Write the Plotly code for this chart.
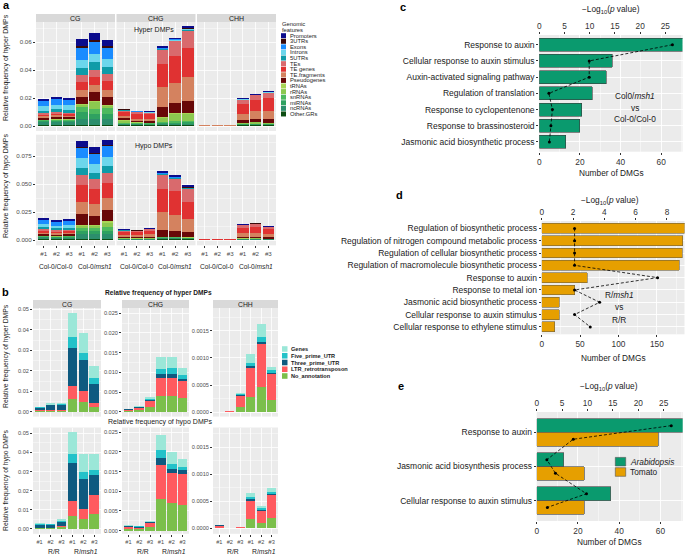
import plotly.graph_objects as go

W, H = 685, 556
FONT = "Liberation Sans, Arial, Helvetica, sans-serif"
BG = "#EBEBEB"
TICKC = "#4D4D4D"

# ---------------- data ----------------
bar_labels = ["#1", "#2", "#3", "#1", "#2", "#3"]
a_group_labels = ["Col-0/Col-0", "Col-0/<i>msh1</i>"]
b_group_labels = ["R/R", "R/<i>msh1</i>"]
contexts = ["CG", "CHG", "CHH"]

features = ["Promoters", "3UTRs", "Exons", "Introns", "5UTRs", "TEs", "TE genes",
            "TE.fragments", "Pseudogenes", "tRNAs", "rRNAs", "snRNAs", "miRNAs",
            "ncRNAs", "Other.GRs"]
feature_colors = ["#0B0B8C", "#3A0A0A", "#1A8CFF", "#6CD6EC", "#0F9BA8", "#D96A6D",
                  "#E03232", "#D4825F", "#680808", "#A9D456", "#8CC84F", "#4DB95E",
                  "#2FA160", "#2C8E6C", "#0D4D12"]

# rows follow `features`, columns are bars #1..#6
a_hyper_CG = [
    [0.0015, 0.0016, 0.0015, 0.0050, 0.0050, 0.0045],
    [0.0003, 0.0003, 0.0003, 0.0015, 0.0015, 0.0010],
    [0.0035, 0.0038, 0.0037, 0.0085, 0.0085, 0.0080],
    [0.0030, 0.0032, 0.0031, 0.0060, 0.0060, 0.0060],
    [0.0020, 0.0022, 0.0021, 0.0050, 0.0055, 0.0050],
    [0.0010, 0.0011, 0.0011, 0.0050, 0.0050, 0.0050],
    [0.0010, 0.0011, 0.0011, 0.0055, 0.0055, 0.0060],
    [0.0010, 0.0011, 0.0010, 0.0050, 0.0050, 0.0050],
    [0.0015, 0.0017, 0.0016, 0.0055, 0.0065, 0.0060],
    [0.0002, 0.0002, 0.0002, 0.0005, 0.0010, 0.0005],
    [0.0003, 0.0003, 0.0003, 0.0010, 0.0050, 0.0015],
    [0.0005, 0.0005, 0.0005, 0.0040, 0.0030, 0.0040],
    [0.0008, 0.0009, 0.0009, 0.0050, 0.0040, 0.0040],
    [0.0020, 0.0022, 0.0022, 0.0040, 0.0040, 0.0040],
    [0.0008, 0.0008, 0.0008, 0.0010, 0.0010, 0.0010],
]
a_hyper_CHG = [
    [0.0005, 0.0004, 0.0004, 0.0012, 0.0012, 0.0015],
    [0.0001, 0.0001, 0.0001, 0.0002, 0.0002, 0.0002],
    [0.0003, 0.0002, 0.0002, 0.0005, 0.0005, 0.0005],
    [0.0002, 0.0002, 0.0002, 0.0003, 0.0003, 0.0003],
    [0.0002, 0.0002, 0.0002, 0.0005, 0.0005, 0.0008],
    [0.0010, 0.0010, 0.0010, 0.0100, 0.0105, 0.0120],
    [0.0030, 0.0035, 0.0033, 0.0170, 0.0190, 0.0210],
    [0.0015, 0.0015, 0.0014, 0.0140, 0.0145, 0.0170],
    [0.0015, 0.0012, 0.0012, 0.0070, 0.0075, 0.0085],
    [0.0003, 0.0002, 0.0002, 0.0005, 0.0008, 0.0008],
    [0.0015, 0.0005, 0.0004, 0.0030, 0.0050, 0.0050],
    [0.0005, 0.0004, 0.0004, 0.0008, 0.0008, 0.0010],
    [0.0005, 0.0004, 0.0004, 0.0008, 0.0010, 0.0010],
    [0.0008, 0.0007, 0.0006, 0.0010, 0.0010, 0.0012],
    [0.0005, 0.0005, 0.0005, 0.0005, 0.0005, 0.0006],
]
a_hyper_CHH = [
    [0.00003, 0.00003, 0.00003, 0.0005, 0.0005, 0.0005],
    [0.00001, 0.00001, 0.00001, 0.0001, 0.0001, 0.0001],
    [0.00001, 0.00001, 0.00001, 0.0001, 0.0002, 0.0001],
    [0.00001, 0.00001, 0.00001, 0.0001, 0.0001, 0.0001],
    [0.00001, 0.00001, 0.00001, 0.0001, 0.0001, 0.0001],
    [0.0002, 0.0002, 0.0002, 0.0030, 0.0035, 0.0040],
    [0.0002, 0.0002, 0.0002, 0.0070, 0.0075, 0.0090],
    [0.0003, 0.0003, 0.0003, 0.0045, 0.0055, 0.0060],
    [0.0001, 0.0001, 0.0001, 0.0022, 0.0025, 0.0025],
    [0.00002, 0.00002, 0.00002, 0.0002, 0.0003, 0.0002],
    [0.00002, 0.00002, 0.00002, 0.0005, 0.0010, 0.0006],
    [0.00002, 0.00002, 0.00002, 0.0003, 0.0004, 0.0004],
    [0.00002, 0.00002, 0.00002, 0.0003, 0.0003, 0.0003],
    [0.00002, 0.00002, 0.00002, 0.0004, 0.0004, 0.0004],
    [0.00003, 0.00003, 0.00003, 0.0005, 0.0005, 0.0005],
]
a_hypo_CG = [
    [0.0017, 0.0016, 0.0017, 0.0057, 0.0055, 0.0050],
    [0.0004, 0.0004, 0.0004, 0.0010, 0.0010, 0.0010],
    [0.0035, 0.0032, 0.0033, 0.0090, 0.0085, 0.0090],
    [0.0025, 0.0023, 0.0024, 0.0084, 0.0080, 0.0085],
    [0.0018, 0.0016, 0.0017, 0.0060, 0.0060, 0.0060],
    [0.0015, 0.0014, 0.0014, 0.0096, 0.0090, 0.0090],
    [0.0015, 0.0013, 0.0014, 0.0144, 0.0130, 0.0130],
    [0.0015, 0.0013, 0.0014, 0.0115, 0.0110, 0.0110],
    [0.0015, 0.0013, 0.0014, 0.0093, 0.0080, 0.0100],
    [0.0002, 0.0002, 0.0002, 0.0007, 0.0008, 0.0015],
    [0.0002, 0.0002, 0.0002, 0.0017, 0.0020, 0.0040],
    [0.0004, 0.0004, 0.0004, 0.0028, 0.0020, 0.0030],
    [0.0006, 0.0005, 0.0006, 0.0030, 0.0030, 0.0030],
    [0.0018, 0.0016, 0.0017, 0.0040, 0.0040, 0.0040],
    [0.0007, 0.0007, 0.0007, 0.0015, 0.0015, 0.0015],
]
a_hypo_CHG = [
    [0.0004, 0.0004, 0.0005, 0.0013, 0.0013, 0.0025],
    [0.0001, 0.0001, 0.0001, 0.0003, 0.0003, 0.0002],
    [0.0002, 0.0002, 0.0002, 0.0008, 0.0008, 0.0005],
    [0.0001, 0.0001, 0.0001, 0.0004, 0.0004, 0.0003],
    [0.0002, 0.0002, 0.0002, 0.0008, 0.0008, 0.0005],
    [0.0012, 0.0011, 0.0014, 0.0120, 0.0105, 0.0115],
    [0.0025, 0.0024, 0.0030, 0.0205, 0.0210, 0.0155],
    [0.0020, 0.0019, 0.0023, 0.0164, 0.0145, 0.0115],
    [0.0012, 0.0011, 0.0014, 0.0060, 0.0055, 0.0045],
    [0.0001, 0.0001, 0.0001, 0.0002, 0.0002, 0.0002],
    [0.0002, 0.0002, 0.0002, 0.0002, 0.0002, 0.0002],
    [0.0002, 0.0002, 0.0002, 0.0004, 0.0004, 0.0003],
    [0.0003, 0.0003, 0.0003, 0.0006, 0.0005, 0.0005],
    [0.0005, 0.0004, 0.0005, 0.0008, 0.0008, 0.0007],
    [0.0004, 0.0004, 0.0004, 0.0008, 0.0008, 0.0007],
]
a_hypo_CHH = [
    [0.00003, 0.00003, 0.00003, 0.0004, 0.0006, 0.0004],
    [0.00001, 0.00001, 0.00001, 0.0001, 0.0001, 0.0001],
    [0.00001, 0.00001, 0.00001, 0.0001, 0.0001, 0.0001],
    [0.00001, 0.00001, 0.00001, 0.0001, 0.0001, 0.0001],
    [0.00001, 0.00001, 0.00001, 0.0001, 0.0001, 0.0001],
    [0.0002, 0.0002, 0.0002, 0.0022, 0.0027, 0.0018],
    [0.0002, 0.0002, 0.0002, 0.0045, 0.0055, 0.0038],
    [0.0003, 0.0003, 0.0003, 0.0035, 0.0035, 0.0033],
    [0.0001, 0.0001, 0.0001, 0.0015, 0.0012, 0.0012],
    [0.00002, 0.00002, 0.00002, 0.0001, 0.0001, 0.0001],
    [0.00002, 0.00002, 0.00002, 0.0001, 0.0001, 0.0001],
    [0.00002, 0.00002, 0.00002, 0.0002, 0.0002, 0.0002],
    [0.00002, 0.00002, 0.00002, 0.0002, 0.0002, 0.0002],
    [0.00002, 0.00002, 0.00002, 0.0004, 0.0005, 0.0004],
    [0.00003, 0.00003, 0.00003, 0.0006, 0.0006, 0.0005],
]

b_categories = ["Genes", "Five_prime_UTR", "Three_prime_UTR", "LTR_retrotransposon", "No_annotation"]
b_colors = ["#9BE7D8", "#22C2C9", "#0E5A80", "#FF5A5F", "#7BBF4B"]
b_hyper_CG = [
    [0.0003, 0.0006, 0.0007, 0.0120, 0.0098, 0.0060],
    [0.0002, 0.0004, 0.0004, 0.0051, 0.0036, 0.0026],
    [0.0012, 0.0022, 0.0024, 0.0185, 0.0152, 0.0093],
    [0.0004, 0.0006, 0.0006, 0.0065, 0.0054, 0.0023],
    [0.0003, 0.0003, 0.0003, 0.0062, 0.0046, 0.0021],
]
b_hyper_CHG = [
    [0.0001, 0.0002, 0.0004, 0.0030, 0.0029, 0.0020],
    [0.0001, 0.0001, 0.0003, 0.0013, 0.0014, 0.0009],
    [0.0001, 0.0002, 0.0004, 0.0010, 0.0010, 0.0005],
    [0.0003, 0.0006, 0.0014, 0.0045, 0.0045, 0.0042],
    [0.0002, 0.0004, 0.0012, 0.0040, 0.0041, 0.0036],
]
b_hyper_CHH = [
    [0.0, 0.0, 0.00002, 0.00016, 0.00024, 0.00006],
    [0.0, 0.0, 0.00001, 0.00006, 0.00008, 0.00004],
    [0.0, 0.0, 0.00002, 0.00003, 0.00005, 0.00003],
    [0.00001, 0.00002, 0.0002, 0.00053, 0.00078, 0.00047],
    [0.0, 0.00001, 0.0001, 0.00029, 0.00047, 0.00023],
]
b_hypo_CG = [
    [0.0005, 0.0004, 0.0008, 0.0113, 0.0092, 0.0083],
    [0.0004, 0.0003, 0.0006, 0.0050, 0.0039, 0.0030],
    [0.0014, 0.0014, 0.0020, 0.0195, 0.0153, 0.0103],
    [0.0004, 0.0004, 0.0010, 0.0080, 0.0056, 0.0100],
    [0.0003, 0.0003, 0.0008, 0.0068, 0.0050, 0.0077],
]
b_hypo_CHG = [
    [0.0002, 0.0002, 0.0002, 0.0038, 0.0029, 0.0021],
    [0.0001, 0.0001, 0.0001, 0.0020, 0.0013, 0.0009],
    [0.0002, 0.0002, 0.0002, 0.0017, 0.0011, 0.0008],
    [0.0004, 0.0004, 0.0011, 0.0086, 0.0076, 0.0079],
    [0.0005, 0.0004, 0.0009, 0.0081, 0.0070, 0.0066],
]
b_hypo_CHH = [
    [0.0, 0.0, 0.0, 0.00008, 0.00004, 0.00007],
    [0.0, 0.0, 0.0, 0.00004, 0.00003, 0.00004],
    [0.00001, 0.0, 0.0, 0.00003, 0.00003, 0.00003],
    [0.00004, 0.00001, 0.00002, 0.00034, 0.00022, 0.00041],
    [0.00001, 0.0, 0.0, 0.00017, 0.00010, 0.00020],
]

c_terms = ["Response to auxin", "Cellular response to auxin stimulus",
           "Auxin-activated signaling pathway", "Regulation of translation",
           "Response to cyclopentenone", "Response to brassinosteroid",
           "Jasmonic acid biosynthetic process"]
c_dmgs = [71, 36, 33, 26, 21, 20, 13]
c_logp = [26.4, 9.9, 9.9, 1.9, 2.6, 2.3, 2.0]

d_terms = ["Regulation of biosynthetic process",
           "Regulation of nitrogen compound metabolic process",
           "Regulation of cellular biosynthetic process",
           "Regulation of macromolecule biosynthetic process",
           "Response to auxin", "Response to metal ion",
           "Jasmonic acid biosynthetic process",
           "Cellular response to auxin stimulus",
           "Cellular response to ethylene stimulus"]
d_dmgs = [186, 184, 183, 179, 59, 43, 23, 23, 17]
d_logp = [2.1, 2.1, 2.1, 2.1, 7.4, 2.1, 3.7, 2.1, 3.1]

e_terms = ["Response to auxin", "Jasmonic acid biosynthesis process",
           "Cellular response to auxin stimulus"]
e_species = ["<i>Arabidopsis</i>", "Tomato"]
e_arab_dmgs = [71, 13, 36]
e_tomato_dmgs = [59, 23, 23]
e_arab_logp = [26.5, 2.0, 9.8]
e_tomato_logp = [7.2, 3.7, 2.1]

GREEN = "#0A9A6E"
ORANGE = "#E69F00"

# ---------------- helpers ----------------
def fx(p):
    return p / W

def fy(p):
    return 1 - p / H

def aid(n):
    return "" if n == 1 else str(n)

fig = go.Figure()
lay = {}
ann = []
shp = []

def text(x, y, s, size, color="#1A1A1A", xanchor="center", yanchor="middle", angle=0, bold=False, xref="paper", xval=None):
    ann.append(dict(x=(xval if xval is not None else fx(x)), y=fy(y), xref=xref, yref="paper",
                    text=(f"<b>{s}</b>" if bold else s), showarrow=False,
                    xanchor=xanchor, yanchor=yanchor, textangle=angle, borderpad=0,
                    font=dict(size=size, color=color, family=FONT)))

def rect(x0, y0, x1, y1, fill, line=None):
    shp.append(dict(type="rect", xref="paper", yref="paper", x0=fx(x0), x1=fx(x1), y0=fy(y1), y1=fy(y0),
                    fillcolor=fill, line=dict(width=0.6 if line else 0, color=line or fill), layer="above"))

positions = list(range(1, len(bar_labels) + 1))

def facet_axes(n, xdom, ydom, yr, dt, fmt, xlabels, ylabels, tick_size):
    i = aid(n)
    lay["xaxis" + i] = dict(domain=[fx(xdom[0]), fx(xdom[1])], anchor="y" + i, range=[0.4, 6.6],
                            tickvals=positions, ticktext=bar_labels, showticklabels=xlabels,
                            ticks="outside" if xlabels else "", ticklen=2, tickcolor="#333333",
                            tickfont=dict(size=tick_size, color=TICKC), showgrid=True,
                            gridcolor="white", gridwidth=0.8, zeroline=False, automargin=False,
                            showline=False)
    lay["yaxis" + i] = dict(domain=[fy(ydom[1]), fy(ydom[0])], anchor="x" + i, range=yr,
                            dtick=dt, tick0=0, tickformat=fmt, showticklabels=ylabels,
                            ticks="outside" if ylabels else "", ticklen=2, tickcolor="#333333",
                            tickfont=dict(size=tick_size, color=TICKC), showgrid=True,
                            gridcolor="white", gridwidth=0.8, zeroline=False, automargin=False,
                            showline=False,
                            minor=dict(dtick=dt / 2, showgrid=True, gridcolor="white", gridwidth=0.4))
    return i

# ---------------- panel a ----------------
a_x_doms = [(36, 115), (116.5, 195.5), (197, 276)]
a_rows = [
    ([a_hyper_CG, a_hyper_CHG, a_hyper_CHH], (22, 131), [-0.0035, 0.0744], 0.02, ".2f"),
    ([a_hypo_CG, a_hypo_CHG, a_hypo_CHH], (134.7, 245.3), [-0.0045, 0.094], 0.025, ".3f"),
]
n = 0
for r, (datas, ydom, yr, dt, fmt) in enumerate(a_rows):
    for c in range(3):
        n += 1
        i = facet_axes(n, a_x_doms[c], ydom, yr, dt, fmt, r == 1, c == 0, 6.2)
        for fi in reversed(range(len(features))):
            fig.add_trace(go.Bar(x=positions, y=datas[c][fi], width=0.9,
                                 marker=dict(color=feature_colors[fi], line=dict(width=0)),
                                 xaxis="x" + i, yaxis="y" + i, showlegend=False, hoverinfo="skip"))
        if r == 0:
            rect(a_x_doms[c][0], 14, a_x_doms[c][1], 22, "#D9D9D9")
            text((a_x_doms[c][0] + a_x_doms[c][1]) / 2, 18, contexts[c], 7)
        else:
            for g, gx in enumerate([2, 5]):
                text(0, 266, a_group_labels[g], 6.6, color="#1A1A1A", xref="x" + i, xval=gx)

text(6, 5, "a", 11, color="black", bold=True)
text(154, 30, "Hyper DMPs", 7)
text(154, 145.5, "Hypo DMPs", 7)
text(6, 68, "Relative frequency of hyper DMPs", 7, angle=-90)
text(6, 186, "Relative frequency of hypo DMPs", 7, angle=-90)
text(281, 24.3, "Genomic", 5.8, xanchor="left")
text(281, 29.6, "features", 5.8, xanchor="left")
for k, name in enumerate(features):
    yy = 35.7 + k * 5.59
    rect(281, yy - 2.5, 286, yy + 2.5, feature_colors[k])
    text(288.5, yy, name, 5.8, xanchor="left")

# ---------------- panel b ----------------
b_x_doms = [(33, 101), (122, 189), (213, 278)]
b_cols = [
    ([-0.0024, 0.0507], [-0.00253, 0.0531], 0.01, ".2f"),
    ([-0.00125, 0.02635], [-0.0008, 0.0262], 0.005, ".3f"),
    ([-0.00008, 0.00192], [-0.0001, 0.00187], 0.0005, ".4f"),
]
b_rows = [([b_hyper_CG, b_hyper_CHG, b_hyper_CHH], (308, 416.6)),
          ([b_hypo_CG, b_hypo_CHG, b_hypo_CHH], (427.5, 533.8))]
for r, (datas, ydom) in enumerate(b_rows):
    for c in range(3):
        n += 1
        yr = b_cols[c][r]
        i = facet_axes(n, b_x_doms[c], ydom, yr, b_cols[c][2], b_cols[c][3], r == 1, True, 5.6)
        for ci in reversed(range(len(b_categories))):
            fig.add_trace(go.Bar(x=positions, y=datas[c][ci], width=0.9,
                                 marker=dict(color=b_colors[ci], line=dict(width=0)),
                                 xaxis="x" + i, yaxis="y" + i, showlegend=False, hoverinfo="skip"))
        if r == 0:
            rect(b_x_doms[c][0], 300, b_x_doms[c][1], 308, "#D9D9D9")
            text((b_x_doms[c][0] + b_x_doms[c][1]) / 2, 304, contexts[c], 6.8)
        else:
            for g, gx in enumerate([2.35, 5.25]):
                text(0, 551, b_group_labels[g], 6.8, xref="x" + i, xval=gx)

text(5, 292, "b", 11, color="black", bold=True)
text(158.5, 292.7, "Relative frequency of hyper DMPs", 6.6, bold=True)
text(160, 421.7, "Relative frequency of hypo DMPs", 7)
text(6, 356, "Relative frequency of hyper DMPs", 6.8, angle=-90)
text(6, 481, "Relative frequency of hypo DMPs", 6.8, angle=-90)
for k, name in enumerate(b_categories):
    yy = 349 + k * 6.75
    rect(282, yy - 2.8, 287.5, yy + 2.8, b_colors[k])
    text(290, yy, name, 5.6, xanchor="left", bold=True)

# ---------------- panels c, d, e ----------------
def enrich_axes(nx, ny, xdom, ydom, ncat, terms, xmax, xdt, topmax, topdt):
    xi, xt, yi = aid(nx), aid(nx + 1), aid(ny)
    lay["xaxis" + xi] = dict(domain=[fx(xdom[0]), fx(xdom[1])], anchor="y" + yi, range=[0, xmax],
                             dtick=xdt, tick0=0, ticks="outside", ticklen=2, tickcolor="#333333",
                             tickfont=dict(size=8.3, color="#333333"), showgrid=True,
                             gridcolor="white", gridwidth=0.9, zeroline=False, automargin=False,
                             showline=False,
                             minor=dict(dtick=xdt / 2, showgrid=True, gridcolor="white", gridwidth=0.45))
    lay["xaxis" + xt] = dict(overlaying="x" + xi, anchor="y" + yi, side="top", range=[0, topmax],
                             dtick=topdt, tick0=0, ticks="outside", ticklen=2, tickcolor="#333333",
                             tickfont=dict(size=8.3, color="#333333"), showgrid=False, zeroline=False,
                             automargin=False, showline=False)
    lay["yaxis" + yi] = dict(domain=[fy(ydom[1]), fy(ydom[0])], anchor="x" + xi,
                             range=[ncat - 1 + 0.6, -0.6], tickvals=list(range(ncat)), ticktext=terms,
                             ticks="outside", ticklen=2, tickcolor="#333333",
                             tickfont=dict(size=8.5, color="#1A1A1A"), showgrid=True,
                             gridcolor="white", gridwidth=0.9, zeroline=False, automargin=False,
                             showline=False)
    return xi, xt, yi

line_style = dict(color="black", width=0.8, dash="3px,2px")
mk = dict(size=3, color="black")

# c
c_xdom, c_ydom = (539.3, 682.5), (35, 151.7)
xi, xt, yi = enrich_axes(25, 25, c_xdom, c_ydom, len(c_terms), c_terms, 70.5, 20, 28.4, 5)
cpos = list(range(len(c_terms)))
fig.add_trace(go.Bar(x=c_dmgs, y=cpos, orientation="h", width=0.8,
                     marker=dict(color=GREEN, line=dict(color="#3A3A3A", width=0.6)),
                     xaxis="x" + xi, yaxis="y" + yi, showlegend=False, hoverinfo="skip"))
fig.add_trace(go.Scatter(x=c_logp, y=cpos, mode="lines+markers", line=line_style, marker=mk,
                         xaxis="x" + xt, yaxis="y" + yi, showlegend=False, hoverinfo="skip"))
text(403, 7, "c", 11, color="black", bold=True)
text(611, 9.3, "\u2212Log<sub>10</sub>(<i>p</i> value)", 8.3)
text(611, 173.3, "Number of DMGs", 8.3)
text(634.5, 95.7, "Col0/<i>msh1</i>", 8.3)
text(634.5, 107.5, "vs", 8.3)
text(634.5, 119.3, "Col-0/Col-0", 8.3)

# d
d_xdom, d_ydom = (541.7, 684.5), (221, 334.3)
xi, xt, yi = enrich_axes(27, 26, d_xdom, d_ydom, len(d_terms), d_terms, 186, 50, 9.12, 2)
dpos = list(range(len(d_terms)))
fig.add_trace(go.Bar(x=d_dmgs, y=dpos, orientation="h", width=0.8,
                     marker=dict(color=ORANGE, line=dict(color="#6E6040", width=0.6)),
                     xaxis="x" + xi, yaxis="y" + yi, showlegend=False, hoverinfo="skip"))
fig.add_trace(go.Scatter(x=d_logp, y=dpos, mode="lines+markers", line=line_style, marker=mk,
                         xaxis="x" + xt, yaxis="y" + yi, showlegend=False, hoverinfo="skip"))
text(399, 195, "d", 11, color="black", bold=True)
text(610, 200, "\u2212Log<sub>10</sub>(<i>p</i> value)", 8.3)
text(613, 357.5, "Number of DMGs", 8.3)
text(619, 294.5, "R/<i>msh1</i>", 8.3)
text(619, 307, "vs", 8.3)
text(619, 319.5, "R/R", 8.3)

# e
e_xdom, e_ydom = (536.7, 682.7), (412, 521)
xi, xt, yi = enrich_axes(29, 27, e_xdom, e_ydom, len(e_terms), e_terms, 70.8, 20, 28.75, 5)
half = 0.2
e_pos_a = [k - half for k in range(len(e_terms))]
e_pos_t = [k + half for k in range(len(e_terms))]
fig.add_trace(go.Bar(x=e_arab_dmgs, y=e_pos_a, orientation="h", width=2 * half,
                     marker=dict(color=GREEN, line=dict(color="#555555", width=0.7)),
                     xaxis="x" + xi, yaxis="y" + yi, showlegend=False, hoverinfo="skip"))
fig.add_trace(go.Bar(x=e_tomato_dmgs, y=e_pos_t, orientation="h", width=2 * half,
                     marker=dict(color=ORANGE, line=dict(color="#555555", width=0.7)),
                     xaxis="x" + xi, yaxis="y" + yi, showlegend=False, hoverinfo="skip"))
e_line_x, e_line_y = [], []
for k in range(len(e_terms)):
    e_line_x += [e_arab_logp[k], e_tomato_logp[k]]
    e_line_y += [e_pos_a[k], e_pos_t[k]]
fig.add_trace(go.Scatter(x=e_line_x, y=e_line_y, mode="lines+markers", line=line_style, marker=mk,
                         xaxis="x" + xt, yaxis="y" + yi, showlegend=False, hoverinfo="skip"))
text(401, 386, "e", 11, color="black", bold=True)
text(609, 386.7, "\u2212Log<sub>10</sub>(<i>p</i> value)", 8.3)
text(609, 542.3, "Number of DMGs", 8.3)
for k, (name, col) in enumerate(zip(e_species, [GREEN, ORANGE])):
    yy = 461.7 + k * 10.3
    rect(615.3, yy - 4.3, 625.7, yy + 4.3, col, line="#555555")
    text(629, yy, name, 8.3, xanchor="left")

fig.update_layout(
    template="none",
    width=W, height=H, margin=dict(l=0, r=0, t=0, b=0, autoexpand=False),
    paper_bgcolor="white", plot_bgcolor=BG, barmode="stack", showlegend=False,
    hovermode=False,
    font=dict(family=FONT, color="#1A1A1A"),
    annotations=ann, shapes=shp, **lay,
)
fig.write_html("out.html", config={"displayModeBar": False, "staticPlot": True},
               post_script="document.body.style.margin='0';document.body.style.overflow='hidden';")
